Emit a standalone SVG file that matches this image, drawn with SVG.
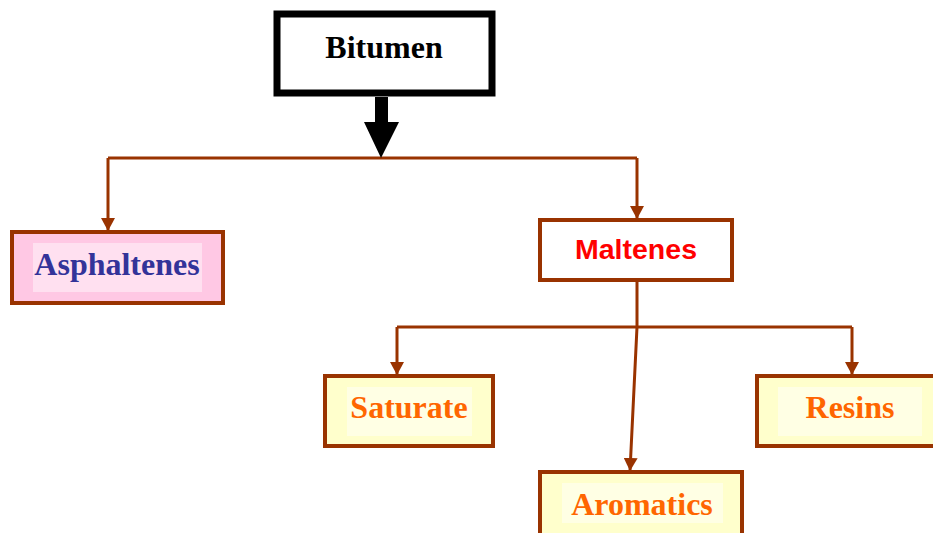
<svg xmlns="http://www.w3.org/2000/svg" width="933" height="533" viewBox="0 0 933 533">
<style>
.box{stroke:#993300;stroke-width:4}
.pink{fill:#FFC8E4}
.yel{fill:#FFFFCC}
.pinkin{fill:#FFE0F0}
.yelin{fill:#FFFFE4}
.t{font-family:"Liberation Serif","Times New Roman",serif;font-weight:bold;font-size:32px;text-anchor:middle}
.orange{fill:#FF6600}
.con{stroke:#993300;stroke-width:3;fill:none}
</style>
<defs>
<marker id="ah" markerWidth="14" markerHeight="14" refX="13" refY="7" orient="auto" markerUnits="userSpaceOnUse">
<path d="M0,0 L13,7 L0,14 Z" fill="#993300"/>
</marker>
</defs>
<rect width="933" height="533" fill="#FFFFFF"/>
<g id="connectors">
<path class="con" d="M108,158 H637"/>
<path class="con" d="M108,158 V231" marker-end="url(#ah)"/>
<path class="con" d="M637,158 V219" marker-end="url(#ah)"/>
<path class="con" d="M637,282 V327 L630,471" marker-end="url(#ah)"/>
<path class="con" d="M397,327 H852"/>
<path class="con" d="M397,327 V375" marker-end="url(#ah)"/>
<path class="con" d="M852,327 V375" marker-end="url(#ah)"/>
<path d="M375,97 H388 V122 H399 L381,158 L364,122 H375 Z" fill="#000000"/>
</g>
<g id="bitumen">
<rect x="277" y="14" width="215" height="79" fill="#FFFFFF" stroke="#000000" stroke-width="7"/>
<text class="t" x="384" y="58" fill="#000000">Bitumen</text>
</g>
<g id="asphaltenes">
<rect class="box pink" x="12" y="232" width="211" height="71"/>
<rect class="pinkin" x="33" y="243" width="169" height="49"/>
<text class="t" x="117" y="275" fill="#333399">Asphaltenes</text>
</g>
<g id="maltenes">
<rect class="box" x="540" y="220" width="192" height="60" fill="#FFFFFF"/>
<text x="636" y="259" fill="#FF0000" font-family="Liberation Sans,Arial,sans-serif" font-weight="bold" font-size="28.5" text-anchor="middle">Maltenes</text>
</g>
<g id="saturate">
<rect class="box yel" x="325" y="376" width="168" height="70"/>
<rect class="yelin" x="347" y="387" width="125" height="49"/>
<text class="t orange" x="409" y="418">Saturate</text>
</g>
<g id="resins">
<rect class="box yel" x="757" y="376" width="184" height="70"/>
<rect class="yelin" x="778" y="387" width="144" height="49"/>
<text class="t orange" x="850" y="418">Resins</text>
</g>
<g id="aromatics">
<rect class="box yel" x="540" y="472" width="202" height="80"/>
<rect class="yelin" x="562" y="483" width="161" height="40"/>
<text class="t orange" x="642" y="515">Aromatics</text>
</g>
</svg>
